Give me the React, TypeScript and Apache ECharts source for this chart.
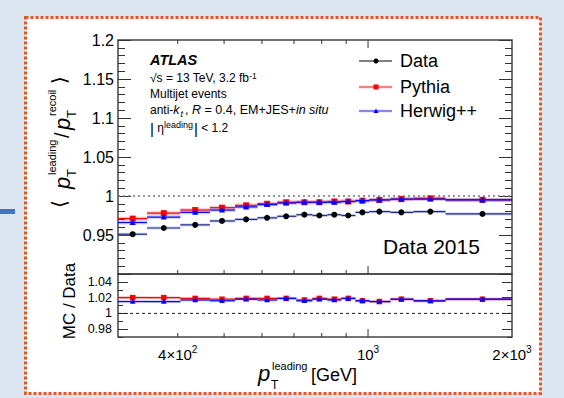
import React, { useEffect, useRef } from 'react';
import * as echarts from 'echarts';

const FONT = '"Liberation Sans", Arial, Helvetica, sans-serif';

// ---- data ----
const xMin = 300;
const xMax = 2000;
const binEdges = [300, 345, 405, 467, 527, 587, 646, 708, 765, 822, 879, 941, 1006, 1114, 1245, 1452, 2000];
const binCenters = [322, 374, 435, 495, 556, 615, 674, 736, 791, 850, 909, 973, 1056, 1174, 1350, 1735];
const dataValues = [0.951, 0.959, 0.963, 0.968, 0.970, 0.972, 0.974, 0.976, 0.975, 0.976, 0.975, 0.979, 0.980, 0.979, 0.980, 0.977];
const pythiaValues = [0.971, 0.978, 0.982, 0.985, 0.988, 0.990, 0.992, 0.992, 0.992, 0.993, 0.993, 0.994, 0.995, 0.996, 0.997, 0.995];
const herwigValues = [0.966, 0.973, 0.979, 0.982, 0.986, 0.989, 0.991, 0.992, 0.992, 0.992, 0.993, 0.994, 0.995, 0.996, 0.996, 0.995];
const pythiaRatio = [1.020, 1.020, 1.019, 1.018, 1.019, 1.019, 1.019, 1.017, 1.019, 1.018, 1.019, 1.016, 1.015, 1.018, 1.016, 1.018];
const herwigRatio = [1.015, 1.015, 1.017, 1.016, 1.018, 1.017, 1.019, 1.016, 1.018, 1.017, 1.019, 1.016, 1.015, 1.018, 1.016, 1.018];

const xTickValues = [400, 500, 600, 700, 800, 900, 1000];
const xTickMajor = [0, 0, 0, 0, 0, 0, 1];
const xLabelValues = [400, 1000, 2000];
const xLabelTexts = ['{a|4×10}{b|2}', '{a|10}{b|3}', '{a|2×10}{b|3}'];
const mainYTickLabels = ['0.95', '1', '1.05', '1.1', '1.15', '1.2'];
const ratioYTicks = [0.98, 1, 1.02, 1.04];

function markerEl(kind: string, cx: number, cy: number, s: number, fill: string) {
  if (kind === 'circle') return { type: 'circle', shape: { cx, cy, r: s / 2 }, style: { fill } };
  if (kind === 'square') return { type: 'rect', shape: { x: cx - s / 2, y: cy - s / 2, width: s, height: s }, style: { fill } };
  return {
    type: 'polygon',
    shape: { points: [[cx, cy - s * 0.6], [cx + s * 0.55, cy + s * 0.45], [cx - s * 0.55, cy + s * 0.45]] },
    style: { fill },
  };
}

function binSeries(xi: number, yi: number, values: number[], lineColor: string, bandColor: string,
  bandHalf: number, marker: string, markerColor: string, size: number, z: number) {
  return {
    type: 'custom',
    xAxisIndex: xi,
    yAxisIndex: yi,
    z,
    silent: true,
    data: values.map((v, i) => [binCenters[i], v, binEdges[i], binEdges[i + 1]]),
    encode: { x: 0, y: 1 },
    renderItem: (params: any, api: any) => {
      const c = api.coord([api.value(0), api.value(1)]);
      const lo = api.coord([api.value(2), api.value(1)]);
      const hi = api.coord([api.value(3), api.value(1)]);
      return {
        type: 'group',
        children: [
          { type: 'rect', shape: { x: lo[0], y: c[1] - bandHalf, width: hi[0] - lo[0], height: bandHalf * 2 }, style: { fill: bandColor } },
          { type: 'line', shape: { x1: lo[0], y1: c[1], x2: hi[0], y2: c[1] }, style: { stroke: lineColor, lineWidth: 1.2 } },
          markerEl(marker, c[0], c[1], size, markerColor),
        ],
      };
    },
  };
}

function xTickSeries(xi: number, yi: number, minorLen: number, majorLen: number, top: boolean) {
  return {
    type: 'custom',
    xAxisIndex: xi,
    yAxisIndex: yi,
    silent: true,
    z: 5,
    data: xTickValues.map((v, i) => [v, xTickMajor[i]]),
    encode: { x: 0 },
    renderItem: (params: any, api: any) => {
      const cs = params.coordSys;
      const px = api.coord([api.value(0), 1])[0];
      const len = xTickMajor[params.dataIndex] ? majorLen : minorLen;
      const yb = cs.y + cs.height;
      const children: any[] = [
        { type: 'line', shape: { x1: px, y1: yb, x2: px, y2: yb - len }, style: { stroke: '#333', lineWidth: 1 } },
      ];
      if (top) children.push({ type: 'line', shape: { x1: px, y1: cs.y, x2: px, y2: cs.y + len }, style: { stroke: '#333', lineWidth: 1 } });
      return { type: 'group', children };
    },
  };
}

const txt = (x: number, y: number, text: string, size: number, extra: any = {}) => ({
  type: 'text', x, y,
  style: { text, fontSize: size, fontFamily: FONT, fill: '#000', verticalAlign: 'middle', align: 'left', ...extra },
});

const fmt = (v: number) => String(parseFloat(v.toFixed(2)));

export default function App() {
  const ref = useRef<HTMLDivElement>(null);
  useEffect(() => {
    const chart = echarts.init(ref.current as HTMLDivElement, null, { renderer: 'svg', width: 564, height: 398 });
    const tickStyle = { color: '#333', width: 1 };
    const baseY = {
      type: 'value',
      axisLine: { show: false },
      splitLine: { show: false },
      minorSplitLine: { show: false },
    };
    const pBand = 'rgba(255,60,60,0.28)';
    const hBand = 'rgba(70,70,255,0.22)';
    const dBand = 'rgba(110,130,230,0.35)';
    const option: any = {
      animation: false,
      backgroundColor: '#dce6f1',
      grid: [
        { left: 118, top: 40, width: 394, height: 234, show: true, borderColor: '#444', borderWidth: 1.5, backgroundColor: 'transparent', outerBoundsMode: 'none' },
        { left: 118, top: 274, width: 394, height: 63, show: true, borderColor: '#444', borderWidth: 1.5, backgroundColor: 'transparent', outerBoundsMode: 'none' },
      ],
      xAxis: [0, 1].map((g) => ({
        type: 'log', logBase: 10, min: xMin, max: xMax, gridIndex: g,
        axisLine: { show: false }, axisTick: { show: false }, axisLabel: { show: false },
        splitLine: { show: false }, minorTick: { show: false },
      })),
      yAxis: [
        {
          ...baseY, gridIndex: 0, min: 0.9, max: 1.2, interval: 0.05, position: 'left',
          axisTick: { inside: true, length: 13, lineStyle: tickStyle },
          minorTick: { show: true, splitNumber: 5, length: 7, lineStyle: tickStyle },
          axisLabel: {
            fontSize: 16, fontFamily: FONT, color: '#000', margin: 4,
            formatter: (v: number) => (mainYTickLabels.indexOf(fmt(v)) >= 0 ? fmt(v) : ''),
          },
        },
        {
          ...baseY, gridIndex: 0, min: 0.9, max: 1.2, interval: 0.05, position: 'right',
          axisTick: { inside: true, length: 13, lineStyle: tickStyle },
          minorTick: { show: true, splitNumber: 5, length: 7, lineStyle: tickStyle },
          axisLabel: { show: false },
        },
        {
          ...baseY, gridIndex: 1, min: 0.97, max: 1.05, position: 'left',
          axisTick: { inside: true, length: 10, lineStyle: tickStyle, customValues: ratioYTicks },
          axisLabel: { fontSize: 12.5, fontFamily: FONT, color: '#000', margin: 6, customValues: ratioYTicks, formatter: (v: number) => fmt(v) },
        },
        {
          ...baseY, gridIndex: 1, min: 0.97, max: 1.05, interval: 0.01, position: 'left',
          axisTick: { inside: true, length: 5, lineStyle: tickStyle },
          axisLabel: { show: false },
        },
        {
          ...baseY, gridIndex: 1, min: 0.97, max: 1.05, position: 'right',
          axisTick: { inside: true, length: 10, lineStyle: tickStyle, customValues: ratioYTicks },
          axisLabel: { show: false },
        },
        {
          ...baseY, gridIndex: 1, min: 0.97, max: 1.05, interval: 0.01, position: 'right',
          axisTick: { inside: true, length: 5, lineStyle: tickStyle },
          axisLabel: { show: false },
        },
      ],
      series: [
        {
          type: 'line', xAxisIndex: 0, yAxisIndex: 0, silent: true, symbol: 'none', z: 1,
          data: [[xMin, 1], [xMax, 1]],
          lineStyle: { color: '#777', width: 1.3, type: [2, 3] },
        },
        {
          type: 'line', xAxisIndex: 1, yAxisIndex: 2, silent: true, symbol: 'none', z: 1,
          data: [[xMin, 1], [xMax, 1]],
          lineStyle: { color: '#222', width: 1, type: [3, 3] },
        },
        xTickSeries(0, 0, 4, 8, true),
        xTickSeries(1, 2, 4, 8, false),
        binSeries(0, 0, dataValues, '#1f2a80', dBand, 1.5, 'circle', '#000', 6, 3),
        binSeries(0, 0, pythiaValues, '#ff0000', pBand, 2, 'square', '#ff0000', 6, 4),
        binSeries(0, 0, herwigValues, '#0000ff', hBand, 2, 'triangle', '#0000ff', 5.5, 5),
        binSeries(1, 2, pythiaRatio, '#ff0000', pBand, 1.5, 'square', '#ff0000', 5.5, 4),
        binSeries(1, 2, herwigRatio, '#0000ff', hBand, 1.5, 'triangle', '#0000ff', 5, 5),
        {
          type: 'custom', xAxisIndex: 1, yAxisIndex: 2, silent: true, z: 6,
          data: xLabelValues.map((v) => [v, 1]),
          encode: { x: 0 },
          renderItem: (params: any, api: any) => {
            const cs = params.coordSys;
            const px = api.coord([api.value(0), 1])[0];
            return {
              type: 'text', x: px, y: cs.y + cs.height + 17,
              style: {
                text: xLabelTexts[params.dataIndex], align: 'center', verticalAlign: 'middle', fill: '#000',
                fontFamily: FONT, fontSize: 15,
                rich: {
                  a: { fontSize: 15, fontFamily: FONT, fill: '#000', lineHeight: 19 },
                  b: { fontSize: 10, fontFamily: FONT, fill: '#000', lineHeight: 19, verticalAlign: 'top' },
                },
              },
            };
          },
        },
      ],
      graphic: [
        { type: 'rect', z: -100, silent: true, shape: { x: 25.5, y: 17.5, width: 515, height: 376 }, style: { fill: '#ffffff', stroke: '#e4561f', lineWidth: 3, lineDash: [3, 2] } },
        { type: 'rect', z: -100, silent: true, shape: { x: 0, y: 209, width: 15, height: 5 }, style: { fill: '#4472c4' } },
        // ATLAS block
        txt(150, 60, 'ATLAS', 14.5, { fontWeight: 'bold', fontStyle: 'italic' }),
        txt(150, 78, '√s = 13 TeV, 3.2 fb{sup|-1}', 12, {
          lineHeight: 14,
          rich: { sup: { fontSize: 8.5, fontFamily: FONT, fill: '#000', lineHeight: 14, verticalAlign: 'top' } },
        }),
        txt(150, 94, 'Multijet events', 12),
        txt(150, 110, 'anti-{it|k}{sub|t}{n|, }{it|R}{n| = 0.4, EM+JES+}{it|in situ}', 12, {
          lineHeight: 14,
          rich: {
            n: { fontSize: 12.5, fontFamily: FONT, fill: '#000', lineHeight: 14 },
            it: { fontSize: 12.5, fontFamily: FONT, fontStyle: 'italic', fill: '#000', lineHeight: 14 },
            sub: { fontSize: 9, fontFamily: FONT, fontStyle: 'italic', fill: '#000', lineHeight: 16, verticalAlign: 'bottom', padding: [0, 2, 0, 1] },
          },
        }),
        txt(150, 128, '{bar||}{n| η}{sup|leading}{bar||}{n| < 1.2}', 12, {
          lineHeight: 16,
          rich: {
            bar: { fontSize: 15, fontFamily: FONT, fill: '#000', lineHeight: 16 },
            n: { fontSize: 12, fontFamily: FONT, fill: '#000', lineHeight: 16 },
            sup: { fontSize: 9, fontFamily: FONT, fill: '#000', lineHeight: 16, verticalAlign: 'top', padding: [0, 1, 0, 0] },
          },
        }),
        // Legend
        { type: 'line', shape: { x1: 359, y1: 61, x2: 392, y2: 61 }, style: { stroke: '#000', lineWidth: 1 } },
        { type: 'circle', shape: { cx: 376, cy: 61, r: 2.5 }, style: { fill: '#000' } },
        txt(400, 61, 'Data', 18),
        { type: 'rect', shape: { x: 359, y: 85.5, width: 33, height: 3 }, style: { fill: 'rgba(255,60,60,0.25)' } },
        { type: 'line', shape: { x1: 359, y1: 87, x2: 392, y2: 87 }, style: { stroke: '#ff3030', lineWidth: 1 } },
        { type: 'rect', shape: { x: 373.5, y: 84.5, width: 5, height: 5 }, style: { fill: '#ff0000' } },
        txt(400, 87, 'Pythia', 18),
        { type: 'rect', shape: { x: 359, y: 109.5, width: 33, height: 3 }, style: { fill: 'rgba(70,70,255,0.2)' } },
        { type: 'line', shape: { x1: 359, y1: 111, x2: 392, y2: 111 }, style: { stroke: '#3030ff', lineWidth: 1 } },
        { type: 'polygon', shape: { points: [[376, 108.5], [378.5, 113], [373.5, 113]] }, style: { fill: '#0000ff' } },
        txt(400, 111, 'Herwig++', 18),
        // Data 2015
        txt(383, 246, 'Data 2015', 21),
        // main y title (rotated)
        {
          type: 'group', x: 62, y: 205, rotation: Math.PI / 2,
          children: [
            txt(-3, -3, '⟨', 20, { fontFamily: '"DejaVu Sans", sans-serif' }),
            txt(16, 0, 'p', 22, { fontStyle: 'italic' }),
            txt(28, 9, 'T', 13),
            txt(30, -10, 'leading', 11),
            txt(67, 0, '/', 20),
            txt(75, 0, 'p', 22, { fontStyle: 'italic' }),
            txt(87, 9, 'T', 13),
            txt(89, -10, 'recoil', 11),
            txt(121, -3, '⟩', 20, { fontFamily: '"DejaVu Sans", sans-serif' }),
          ],
        },
        // lower y title
        { type: 'text', x: 69, y: 301, rotation: Math.PI / 2, style: { text: 'MC / Data', fontSize: 17, fontFamily: FONT, fill: '#000', align: 'center', verticalAlign: 'middle' } },
        // x title
        txt(258, 373, 'p', 22, { fontStyle: 'italic' }),
        txt(271, 385, 'T', 12),
        txt(272, 366, 'leading', 11),
        txt(311, 375, '[GeV]', 18),
      ],
    };
    chart.setOption(option);
    return () => chart.dispose();
  }, []);
  return <div ref={ref} style={{ position: 'absolute', left: 0, top: 0, width: 564, height: 398 }} />;
}
